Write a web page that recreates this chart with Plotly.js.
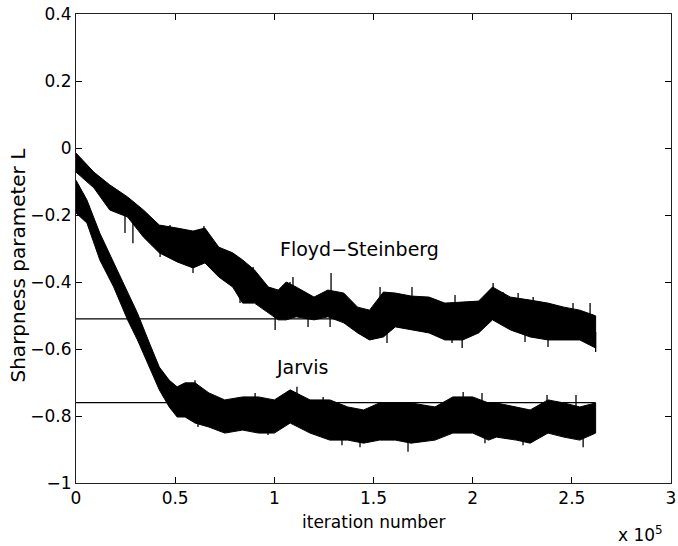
<!DOCTYPE html>
<html>
<head>
<meta charset="utf-8">
<script src="https://cdn.plot.ly/plotly-3.0.1.min.js"></script>
<style>html,body{margin:0;padding:0;background:#fff;}#chart{width:678px;height:546px;}</style>
</head>
<body>
<div id="chart"></div>
<script>
// iteration number in units of 1e5; band = upper / lower envelope of the noisy trace
const fsX  = [0, 0.09, 0.17, 0.26, 0.34, 0.42, 0.51, 0.59, 0.65, 0.72, 0.79, 0.84, 0.90, 0.97, 1.02, 1.06, 1.11, 1.20, 1.27, 1.35, 1.42, 1.48, 1.55, 1.61, 1.69, 1.78, 1.86, 1.95, 2.03, 2.10, 2.19, 2.29, 2.38, 2.46, 2.54, 2.62];
const fsHi = [-0.015, -0.072, -0.110, -0.146, -0.185, -0.230, -0.239, -0.248, -0.239, -0.296, -0.313, -0.334, -0.364, -0.415, -0.424, -0.400, -0.415, -0.445, -0.424, -0.433, -0.475, -0.484, -0.430, -0.433, -0.442, -0.445, -0.463, -0.460, -0.457, -0.415, -0.445, -0.454, -0.463, -0.475, -0.484, -0.501];
const fsLo = [-0.072, -0.119, -0.185, -0.206, -0.266, -0.313, -0.340, -0.358, -0.343, -0.385, -0.415, -0.463, -0.463, -0.493, -0.513, -0.513, -0.504, -0.513, -0.504, -0.522, -0.552, -0.573, -0.564, -0.534, -0.543, -0.552, -0.573, -0.573, -0.552, -0.513, -0.543, -0.564, -0.573, -0.573, -0.573, -0.597];
// isolated spikes (tip values)
const fsSpikeX = [0.247, 0.287, 0.424, 0.474, 0.590, 0.645, 0.827, 0.893, 1.004, 1.079, 1.094, 1.170, 1.286, 1.281, 1.483, 1.533, 1.568, 1.694, 1.896, 1.911, 1.947, 2.103, 2.153, 2.229, 2.264, 2.305, 2.380, 2.506, 2.592, 2.620];
const fsSpikeY = [-0.254, -0.284, -0.325, -0.230, -0.373, -0.233, -0.463, -0.355, -0.543, -0.400, -0.385, -0.534, -0.373, -0.534, -0.573, -0.415, -0.582, -0.415, -0.582, -0.439, -0.597, -0.403, -0.430, -0.433, -0.579, -0.445, -0.594, -0.463, -0.463, -0.609];

const jvX  = [0, 0.055, 0.12, 0.19, 0.26, 0.31, 0.37, 0.42, 0.47, 0.51, 0.55, 0.60, 0.67, 0.75, 0.84, 0.92, 1.00, 1.08, 1.18, 1.28, 1.37, 1.45, 1.53, 1.61, 1.69, 1.81, 1.90, 2.00, 2.08, 2.12, 2.22, 2.29, 2.38, 2.46, 2.54, 2.62];
const jvHi = [-0.096, -0.155, -0.254, -0.343, -0.433, -0.493, -0.582, -0.654, -0.693, -0.713, -0.701, -0.701, -0.731, -0.752, -0.743, -0.743, -0.752, -0.722, -0.752, -0.752, -0.773, -0.782, -0.761, -0.761, -0.761, -0.773, -0.743, -0.743, -0.761, -0.761, -0.773, -0.782, -0.752, -0.761, -0.773, -0.761];
const jvLo = [-0.194, -0.224, -0.334, -0.415, -0.513, -0.573, -0.654, -0.722, -0.773, -0.803, -0.803, -0.821, -0.833, -0.851, -0.842, -0.851, -0.851, -0.821, -0.851, -0.872, -0.872, -0.881, -0.872, -0.872, -0.881, -0.872, -0.851, -0.851, -0.872, -0.863, -0.872, -0.881, -0.851, -0.863, -0.872, -0.851];
const jvSpikeX = [0.514, 0.600, 0.615, 0.767, 0.903, 0.968, 1.114, 1.246, 1.341, 1.432, 1.674, 1.952, 2.047, 2.062, 2.254, 2.375, 2.521, 2.557];
const jvSpikeY = [-0.803, -0.693, -0.833, -0.851, -0.731, -0.857, -0.713, -0.743, -0.887, -0.893, -0.907, -0.728, -0.731, -0.881, -0.887, -0.737, -0.737, -0.893];

const refLevels = [-0.51, -0.76];
const refXEnd = 2.62;

const xTicks = [0, 0.5, 1, 1.5, 2, 2.5, 3];
const xTickText = ["0", "0.5", "1", "1.5", "2", "2.5", "3"];
const yTicks = [-1, -0.8, -0.6, -0.4, -0.2, 0, 0.2, 0.4];
const yTickText = ["\u22121", "\u22120.8", "\u22120.6", "\u22120.4", "\u22120.2", "0", "0.2", "0.4"];

function band(x, hi, lo) {
  return {
    x: x.concat(x.slice().reverse()),
    y: hi.concat(lo.slice().reverse()),
    type: 'scatter', mode: 'lines', fill: 'toself',
    fillcolor: '#000', line: {color: '#000', width: 1},
    hoverinfo: 'skip', showlegend: false
  };
}
function spikes(bx, hi, lo, sx, sy) {
  const xs = [], ys = [];
  sx.forEach((x, i) => {
    let k = 0, best = Infinity;
    bx.forEach((b, j) => { const d = Math.abs(b - x); if (d < best) { best = d; k = j; } });
    xs.push(x, x, null);
    ys.push((hi[k] + lo[k]) / 2, sy[i], null);
  });
  return {x: xs, y: ys, type: 'scatter', mode: 'lines', line: {color: '#000', width: 1.3},
          hoverinfo: 'skip', showlegend: false, connectgaps: false};
}

const traces = [
  band(fsX, fsHi, fsLo), spikes(fsX, fsHi, fsLo, fsSpikeX, fsSpikeY),
  band(jvX, jvHi, jvLo), spikes(jvX, jvHi, jvLo, jvSpikeX, jvSpikeY)
];
refLevels.forEach(v => traces.push({
  x: [0, refXEnd], y: [v, v], type: 'scatter', mode: 'lines',
  line: {color: '#000', width: 1.2}, showlegend: false, hoverinfo: 'skip'
}));

const font = {family: 'DejaVu Sans, sans-serif', size: 17, color: '#000'};

const layout = {
  width: 678, height: 546,
  margin: {l: 76, r: 7, t: 14, b: 63},
  paper_bgcolor: '#fff', plot_bgcolor: '#fff',
  font: font,
  showlegend: false,
  xaxis: {
    range: [0, 3], tickvals: xTicks, ticktext: xTickText,
    ticks: 'inside', ticklen: 6, tickcolor: '#000', tickwidth: 1,
    showline: true, linecolor: '#222', linewidth: 1, mirror: 'ticks',
    showgrid: false, zeroline: false, tickfont: font, automargin: false
  },
  yaxis: {
    range: [-1, 0.4], tickvals: yTicks, ticktext: yTickText,
    ticks: 'inside', ticklen: 6, tickcolor: '#000', tickwidth: 1,
    showline: true, linecolor: '#222', linewidth: 1, mirror: 'ticks',
    showgrid: false, zeroline: false, tickfont: font, automargin: false
  },
  annotations: [
    {text: 'Floyd\u2212Steinberg', x: 1.02, y: -0.301, xref: 'x', yref: 'y', xanchor: 'left', yanchor: 'middle', showarrow: false, font: {family: 'DejaVu Sans, sans-serif', size: 19, color: '#000'}},
    {text: 'Jarvis', x: 1.0, y: -0.654, xref: 'x', yref: 'y', xanchor: 'left', yanchor: 'middle', showarrow: false, font: {family: 'DejaVu Sans, sans-serif', size: 19, color: '#000'}},
    {text: 'iteration number', x: 0.5, y: 0, xref: 'paper', yref: 'paper', xanchor: 'center', yanchor: 'middle', yshift: -39, showarrow: false, font: font},
    {text: 'x 10<sup>5</sup>', x: 1, y: 0, xref: 'paper', yref: 'paper', xanchor: 'right', yanchor: 'middle', xshift: -6, yshift: -51, showarrow: false, font: font},
    {text: 'Sharpness parameter L', x: 0, y: 0.5, xref: 'paper', yref: 'paper', xanchor: 'center', yanchor: 'middle', xshift: -59, yshift: -17, textangle: -90, showarrow: false, font: {family: 'DejaVu Sans, sans-serif', size: 20, color: '#000'}}
  ]
};

Plotly.newPlot('chart', traces, layout, {displayModeBar: false, staticPlot: true});
</script>
</body>
</html>
